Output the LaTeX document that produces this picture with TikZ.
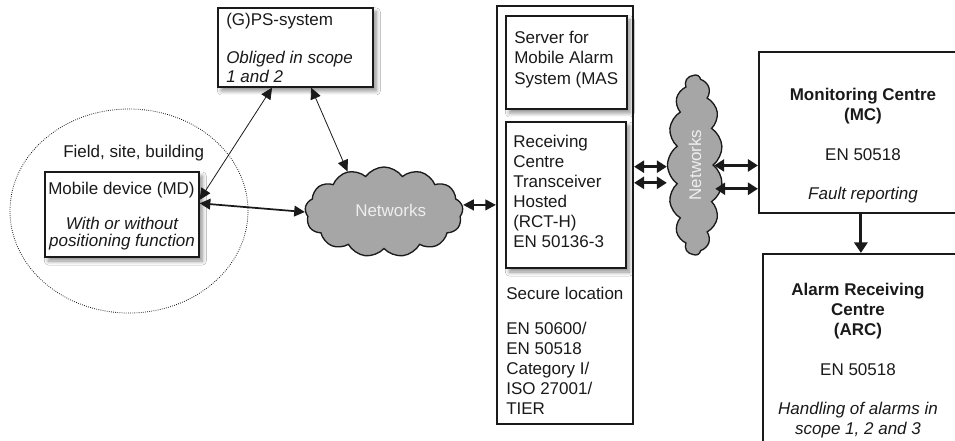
\documentclass[tikz,border=0pt]{standalone}
\usepackage{fontspec}
\setmainfont{Liberation Sans}
\usetikzlibrary{shapes.geometric,shapes.symbols,arrows.meta,shadows.blur,calc}
\definecolor{cloudgray}{HTML}{A6A6A6}
\definecolor{cloudtext}{HTML}{EEEEEE}
\definecolor{ink}{HTML}{1A1A1A}
\begin{document}
\begin{tikzpicture}[x=0.75pt,y=-0.75pt,
  box/.style={draw=ink, fill=white, rectangle, inner sep=0pt},
  shadowed/.style={blur shadow={shadow xshift=2.5pt, shadow yshift=-3pt, shadow blur steps=8, shadow blur radius=3pt, shadow opacity=45}},
  txt/.style={inner sep=0pt, anchor=north west, align=left, text=ink, font=\fontsize{12.75}{15}\selectfont},
  ctxt/.style={txt, anchor=north, align=center},
  netcloud/.style={cloud, draw=ink, line width=1pt, fill=cloudgray, cloud ignores aspect, inner sep=0pt, text=cloudtext, font=\fontsize{12.75}{15}\selectfont},
  thinarr/.style={{Triangle[length=8.5pt,width=8pt]}-{Triangle[length=8.5pt,width=8pt]}, line width=0.6pt, draw=ink},
  midarr/.style={{Triangle[length=8pt,width=8pt]}-{Triangle[length=8pt,width=8pt]}, line width=1.3pt, draw=ink},
  thickarr/.style={{Triangle[length=7.5pt,width=9pt]}-{Triangle[length=7.5pt,width=9pt]}, line width=2.2pt, draw=ink},
  downarr/.style={-{Triangle[length=8pt,width=10pt]}, line width=2.4pt, draw=ink}
]
\clip (0,0) rectangle (955,441);
\fill[white] (0,0) rectangle (955,441);

% field ellipse
\node[ellipse, draw=ink, densely dotted, line width=0.6pt, minimum width=178.5pt, minimum height=153pt] (field) at (129,211) {};
\node[txt] (fieldt) at (63,145) {Field, site, building};

% GPS box
\node[box, shadowed, line width=1pt, minimum width=116.25pt, minimum height=59.25pt] (gps) at (295.5,47.5) {};
\node[txt, font=\fontsize{12.75}{14.25}\selectfont] (gpst) at (226,13) {(G)PS-system\\[14.25pt]\textit{Obliged in scope}\\\textit{1 and 2}};

% Mobile device box
\node[box, shadowed, line width=1pt, minimum width=115.5pt, minimum height=63.75pt] (md) at (122,214.5) {};
\node[txt] (mdt) at (48,182) {Mobile device (MD)};
\node[ctxt, font=\fontsize{12.75}{13}\selectfont\itshape] (mdi) at (122,217) {With or without\\positioning function};

% secure location box
\node[box, line width=1.6pt, minimum width=102pt, minimum height=313.5pt] (secure) at (565,215) {};
\node[box, shadowed, line width=1.8pt, minimum width=90.75pt, minimum height=69.75pt] (server) at (566.5,62.5) {};
\node[box, shadowed, line width=1.8pt, minimum width=90pt, minimum height=109.5pt] (rct) at (566,195) {};
\node[txt, font=\fontsize{12.75}{15.3}\selectfont] (servt) at (514,31) {Server for\\Mobile Alarm\\System (MAS};
\node[txt] (rctt) at (513,135) {Receiving\\Centre\\Transceiver\\Hosted\\(RCT-H)\\EN 50136-3};
\node[txt] (sect) at (506,287) {Secure location};
\node[txt] (secstd) at (506,322) {EN 50600/\\EN 50518\\Category I/\\ISO 27001/\\TIER};

% clouds
\node[netcloud, cloud puffs=13, cloud puff arc=110, minimum width=118.5pt, minimum height=67.5pt] (net1) at (384,212) {\hspace*{10pt}\raisebox{3pt}{Networks}};
\node[netcloud, cloud puffs=15, cloud puff arc=110, rotate=90, minimum width=135pt, minimum height=41.25pt] (net2) at (695,165) {Networks};

% MC and ARC
\node[box, line width=1.6pt, minimum width=158.25pt, minimum height=120.75pt] (mc) at (864.5,132.5) {};
\node[ctxt, font=\fontsize{12.75}{15}\selectfont\bfseries] (mct) at (863,88) {Monitoring Centre\\(MC)};
\node[ctxt] (mcen) at (863,148) {EN 50518};
\node[ctxt, font=\fontsize{12.75}{15}\selectfont\itshape] (mcf) at (863,187) {Fault reporting};

\node[box, line width=1.6pt, minimum width=155.25pt, minimum height=154.5pt] (arc) at (866.5,357) {};
\node[ctxt, font=\fontsize{12.75}{15}\selectfont\bfseries] (arct) at (858,283) {Alarm Receiving\\Centre\\(ARC)};
\node[ctxt] (arcen) at (858,363) {EN 50518};
\node[ctxt, font=\fontsize{12.75}{15}\selectfont\itshape] (arch) at (858,402) {Handling of alarms in\\scope 1, 2 and 3};

% connectors
\draw[thinarr] ($(gps.south west)!0.35!(gps.south east)$) -- ($(md.north east)!0.33!(md.south east)$);
\draw[thinarr] ($(gps.south west)!0.6!(gps.south east)$) -- (net1.132);
\draw[midarr] ($(md.north east)!0.37!(md.south east)$) -- (net1.west);

\coordinate (secin) at ($(secure.north west)!0.476!(secure.south west)$);
\draw[midarr, line width=1.6pt] (net1.east |- secin) -- (secin);

\coordinate (secA) at ($(secure.north east)!0.385!(secure.south east)$);
\coordinate (secB) at ($(secure.north east)!0.4234!(secure.south east)$);
\draw[thickarr] (secA) -- (secA -| net2.north);
\draw[thickarr] (secB) -- (secB -| net2.north);

\coordinate (mcA) at ($(mc.north west)!0.702!(mc.south west)$);
\coordinate (mcB) at ($(mc.north west)!0.845!(mc.south west)$);
\draw[thickarr] (mcA -| net2.south) -- (mcA);
\draw[thickarr] ($(mcB -| net2.south)+(1,0)$) -- (mcB);

\coordinate (mcout) at ($(mc.south west)!0.483!(mc.south east)$);
\draw[downarr] (mcout) -- (mcout |- arc.north);
\end{tikzpicture}
\end{document}
